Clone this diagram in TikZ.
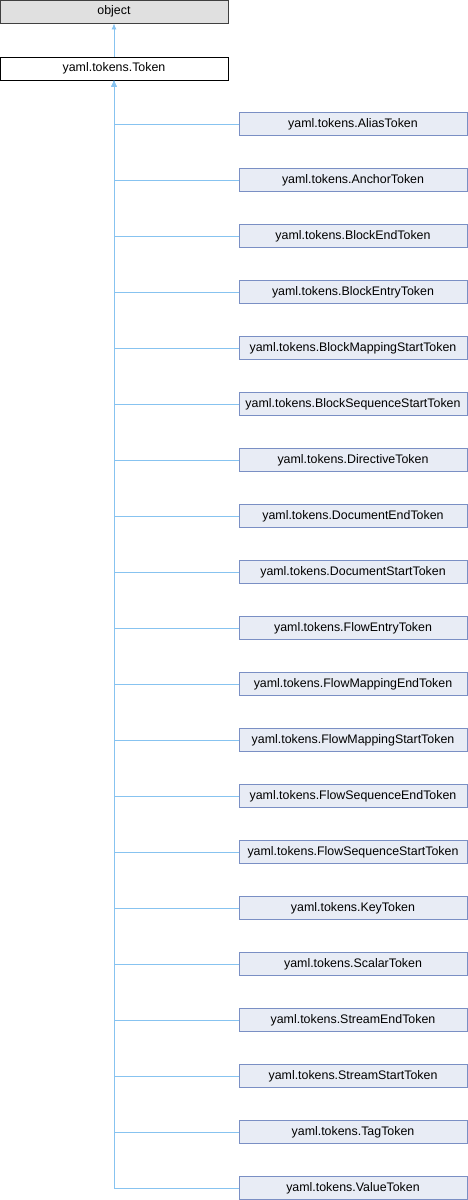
\documentclass[tikz,border=0pt]{standalone}
\usepackage{fontspec}
\setmainfont{Liberation Sans}
\usetikzlibrary{arrows.meta}

\definecolor{edgeblue}{RGB}{135,195,240}
\definecolor{boxfill}{RGB}{232,236,245}
\definecolor{boxline}{RGB}{122,143,196}
\definecolor{basefill}{RGB}{224,224,224}

\tikzset{
    cls/.style={rectangle, draw, line width=0.9pt, minimum width=228pt, minimum height=23pt, inner sep=0pt, font=\fontsize{12.4}{14}\selectfont},
    derived/.style={cls, draw=boxline, fill=boxfill},
    inherit/.style={draw=edgeblue, line width=0.9pt, -{Latex[length=6pt,width=5pt]}}
}

\begin{document}
\begin{tikzpicture}[x=1pt, y=-1pt, node distance=57pt]
    \useasboundingbox (0,0) rectangle (468,1200);
    % Place nodes
    \node [cls, draw=black!75, fill=basefill] (obj) at (114,11.5) {object};
    \node [cls, draw=black, fill=white, below of=obj] (tok) {yaml.tokens.Token};
    \foreach \name [count=\i] in {AliasToken, AnchorToken, BlockEndToken, BlockEntryToken,
        BlockMappingStartToken, BlockSequenceStartToken, DirectiveToken, DocumentEndToken,
        DocumentStartToken, FlowEntryToken, FlowMappingEndToken, FlowMappingStartToken,
        FlowSequenceEndToken, FlowSequenceStartToken, KeyToken, ScalarToken,
        StreamEndToken, StreamStartToken, TagToken, ValueToken}
        \node [derived] (c\i) at (353,68+56*\i) {yaml.tokens.\name};

    % Inheritance edges
    \draw [inherit] (tok) -- (obj);
    \foreach \i in {1,...,20}
        \draw [inherit] (c\i.west) -| (tok.south);
\end{tikzpicture}
\end{document}
